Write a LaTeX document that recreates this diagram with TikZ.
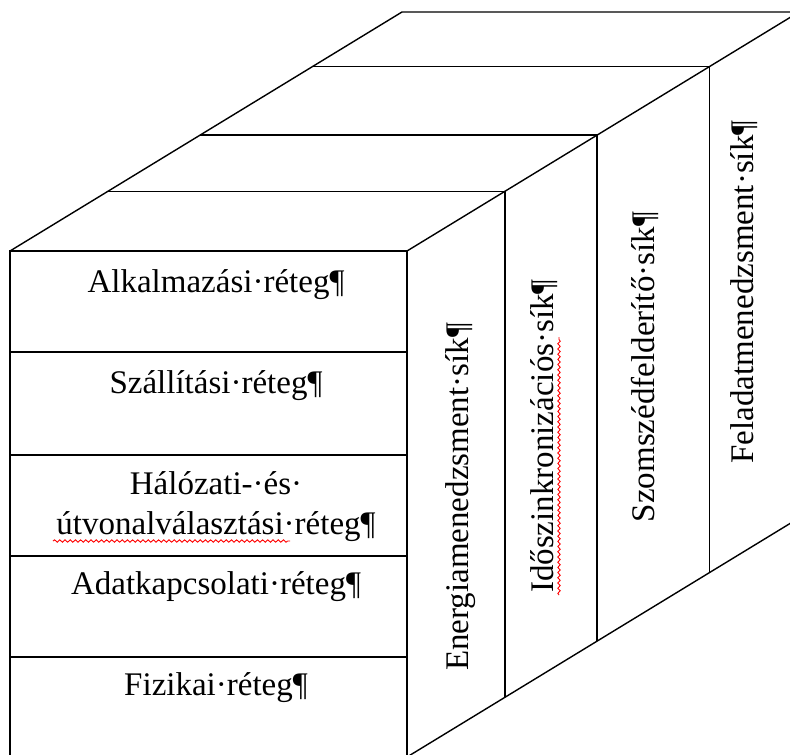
\documentclass[tikz,border=0pt]{standalone}
\usepackage{fontspec}
\setmainfont{Liberation Serif}
\usetikzlibrary{calc, decorations.pathmorphing}
\tikzset{
    % Lines
    edge/.style={draw=black, line width=0.7pt, line join=miter},
    spell/.style={draw=red, line width=0.45pt, decorate,
                  decoration={snake, amplitude=0.6pt, segment length=2.6pt}},
    % Texts
    layer/.style={font=\fontsize{16.5}{20}\selectfont, inner sep=0pt, anchor=base, align=center},
    plane/.style={layer, rotate=90}
}

\begin{document}
\begin{tikzpicture}[x=0.5pt, y=-0.5pt]

\useasboundingbox (0,0) rectangle (790,754);
\clip (0,0) rectangle (790,754);

% Corners of the box
\coordinate (FTL) at (10,251);
\coordinate (FTR) at (407,251);
\coordinate (FBL) at (10,757);
\coordinate (FBR) at (407,757);
\coordinate (BTL) at ($(FTL)+(392,-239)$);
\coordinate (BTR) at ($(FTR)+(392,-239)$);
\coordinate (BBR) at ($(FBR)+(392,-239)$);

% Outline
\draw[edge] (FBL) -- (FTL) -- (FTR) -- (FBR) -- cycle;
\draw[edge] (FTL) -- (BTL) -- (BTR) -- (BBR) -- (FBR);
\draw[edge] (FTR) -- (BTR);

% Planes along the depth
\foreach \f in {0.25,0.485,0.772}
    \draw[edge] ($(FTL)!\f!(BTL)$) -- ($(FTR)!\f!(BTR)$) -- ($(FBR)!\f!(BBR)$);

% Layers on the front
\foreach \y in {352,455,556,657}
    \draw[edge] (FTL |- 0,\y) -- (FTR |- 0,\y);

\node[layer] (app) at (216,292) {Alkalmazási·réteg¶};
\node[layer] (transport) at (216,393) {Szállítási·réteg¶};
\node[layer] (network) at (216,534) {Hálózati-·és·\\útvonalválasztási·réteg¶};
\node[layer] (datalink) at (216,594) {Adatkapcsolati·réteg¶};
\node[layer] (phys) at (216,695) {Fizikai·réteg¶};

% Side planes
\node[plane] (energy) at (468,497) {Energiamenedzsment·sík¶};
\node[plane] (timesync) at (553,436) {Időszinkronizációs·sík¶};
\node[plane] (neighbor) at (654,367) {Szomszédfelderítő·sík¶};
\node[plane] (task) at (753,292) {Feladatmenedzsment·sík¶};

% Spell check marks
\draw[spell] (53,541) -- (290,541);
\draw[spell] (559,595) -- (559,337);

\end{tikzpicture}
\end{document}
